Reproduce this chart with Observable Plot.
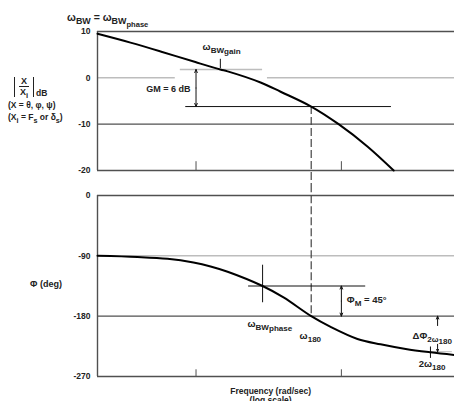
<!DOCTYPE html>
<html>
<head>
<meta charset="utf-8">
<script src="https://cdn.jsdelivr.net/npm/d3@7"></script>
<script src="https://cdn.jsdelivr.net/npm/@observablehq/plot@0.6"></script>
<style>
  html, body { margin: 0; padding: 0; background: #fff; overflow: hidden; }
  #wrap { position: relative; width: 454px; height: 401px; }
  #wrap svg { display: block; }
  .lab { position: absolute; font-family: "Liberation Sans", Arial, sans-serif; font-weight: bold;
         font-size: 8.5px; color: #222; white-space: nowrap; line-height: 1; }
  .lab sub { font-size: 0.85em; vertical-align: -0.35em; line-height: 0; }
  .frac { display: inline-block; border-left: 1.4px solid #222; border-right: 1.4px solid #222;
          padding: 0 4px; text-align: center; vertical-align: top; }
  .frac span { display: block; line-height: 9px; }
</style>
</head>
<body>
<div id="wrap"></div>
<script>
// ---------------- data ----------------
const FREQ_DOMAIN = [0.21, 60];          // rad/sec (log scale)
const freqTicks = [1, 10];

// Gain panel
const dbTicks = [10, 0, -10, -20];
const gainFreq = [0.21, 0.354, 0.57, 0.99, 1.47, 1.65, 2.78, 3.82, 6.2, 9.57, 15.1, 22.9];
const gainDb   = [9.5, 7.6, 5.7, 3.4, 1.8, 1.4, -1.0, -3.0, -6.2, -10, -14.8, -20];

// Phase panel
const degTicks = [0, -90, -180, -270];
const phaseFreq = [0.21, 0.396, 0.637, 0.96, 1.26, 1.65, 2.87, 4.0, 6.2, 8.43, 12.9, 18.6, 27.7, 41.1, 60];
const phaseDeg  = [-90, -91.8, -94.5, -100, -105.8, -113.7, -135, -152, -180, -196, -214, -222, -229, -234, -238];

// Key frequencies / levels
const omegaBWgain = 1.47;
const omegaBWphase = 2.87;
const omega180 = 6.2;
const twoOmega180 = 41;
const gainAtBWgain = 1.8;
const gainAt180 = -6.2;
const phaseMarginLevel = -135;

// Annotation labels (positions in data units)
const topLabelsStart = [{f: 1.11, v: 6.7, t: "ωBWgain"}];
const topLabelsEnd = [{f: 0.917, v: -2.4, t: "GM = 6 dB"}];
const botLabels = [
  {f: 2.26, v: -192, t: "ωBWphase"},
  {f: 5.16, v: -210, t: "ω180"},
  {f: 10.9, v: -156, t: "ΦM = 45°"},
  {f: 30.9, v: -210, t: "ΔΦ2ω180"},
  {f: 34, v: -252, t: "2ω180"}
];

// Rich text (subscript levels) for labels
const rich = {
  "ωBWgain": [["ω",0],["BW",1],["gain",1.4]],
  "ωBWphase": [["ω",0],["BW",1],["phase",1.4]],
  "ω180": [["ω",0],["180",1]],
  "ΦM = 45°": [["Φ",0],["M",1],[" = 45°",0]],
  "ΔΦ2ω180": [["ΔΦ",0],["2ω",1],["180",1.6]],
  "2ω180": [["2ω",0],["180",1]]
};

const gainData = gainFreq.map((f, i) => ({f, v: gainDb[i]}));
const phaseData = phaseFreq.map((f, i) => ({f, v: phaseDeg[i]}));

const FONT = "'Liberation Sans', Arial, sans-serif";
const DARK = "#505050", GRAY = "#bdbdbd";
const baseStyle = {fontFamily: FONT, fontSize: "8px", background: "white", overflow: "hidden"};
const fmt = d => String(d);
const RICH_SIZE = 9.5;

// ---------------- gain panel ----------------
const topPlot = Plot.plot({
  width: 454, height: 185,
  marginLeft: 97, marginRight: 0, marginTop: 31, marginBottom: 15,
  x: {type: "log", domain: FREQ_DOMAIN, axis: null},
  y: {domain: [-20, 10], axis: null},
  style: baseStyle,
  marks: [
    Plot.ruleY([{v: 0, x1: FREQ_DOMAIN[0], x2: 0.72}, {v: 0, x1: 3.1, x2: FREQ_DOMAIN[1]}],
      {y: "v", x1: "x1", x2: "x2", stroke: GRAY, strokeWidth: 1.5}),
    Plot.ruleY([{v: gainAtBWgain, x1: 0.78, x2: 2.87}],
      {y: "v", x1: "x1", x2: "x2", stroke: GRAY, strokeWidth: 1.5}),
    Plot.ruleY([10, -10, -20], {stroke: DARK, strokeWidth: 1.4}),
    Plot.ruleX([FREQ_DOMAIN[0]], {y1: -20, y2: 10, stroke: DARK, strokeWidth: 1.4}),
    Plot.ruleX(freqTicks, {y1: -20, y2: -18.1, stroke: DARK, strokeWidth: 1}),
    Plot.ruleY([{v: gainAt180, x1: 0.85, x2: 22.1}],
      {y: "v", x1: "x1", x2: "x2", stroke: "#111", strokeWidth: 1}),
    Plot.ruleX([omegaBWgain], {y1: 2.0, y2: 4.0, stroke: "#111", strokeWidth: 1}),
    Plot.ruleX([omega180], {y1: gainAt180, y2: -24, stroke: "#444", strokeWidth: 1.2, strokeDasharray: "8,3"}),
    Plot.arrow([{f: 1, y1: -2.2, y2: gainAtBWgain}, {f: 1, y1: -2.2, y2: gainAt180}],
      {x: "f", y1: "y1", y2: "y2", stroke: "#111", strokeWidth: 1, headLength: 5, headAngle: 45}),
    Plot.line(gainData, {x: "f", y: "v", stroke: "#000", strokeWidth: 2, curve: "catmull-rom"}),
    Plot.axisY({ticks: dbTicks, tickSize: 0, tickPadding: 7, tickFormat: fmt, label: null,
      fontWeight: "bold", fontSize: 8.5, fill: "#222"}),
    Plot.text(topLabelsStart, {x: "f", y: "v", text: "t", textAnchor: "start", fontSize: RICH_SIZE, fontWeight: "bold", fill: "#222"}),
    Plot.text(topLabelsEnd, {x: "f", y: "v", text: "t", textAnchor: "end", fontSize: 9, fontWeight: "bold", fill: "#222"})
  ]
});

// ---------------- phase panel ----------------
const botPlot = Plot.plot({
  width: 454, height: 216,
  marginLeft: 97, marginRight: 0, marginTop: 10, marginBottom: 25,
  x: {type: "log", domain: FREQ_DOMAIN, axis: null},
  y: {domain: [-270, 0], axis: null},
  style: baseStyle,
  marks: [
    Plot.ruleY([-90], {stroke: GRAY, strokeWidth: 1.5}),
    Plot.ruleY([0, -180, -270], {stroke: DARK, strokeWidth: 1.4}),
    Plot.ruleX([FREQ_DOMAIN[0]], {y1: -270, y2: 0, stroke: DARK, strokeWidth: 1.4}),
    Plot.ruleX(freqTicks, {y1: -270, y2: -260, stroke: DARK, strokeWidth: 1}),
    Plot.ruleX([omega180], {y1: 16, y2: -180, stroke: "#444", strokeWidth: 1.2, strokeDasharray: "8,3"}),
    Plot.ruleX([omegaBWphase], {y1: -104, y2: -160, stroke: "#111", strokeWidth: 1}),
    Plot.ruleY([{v: phaseMarginLevel, x1: 2.30, x2: 14.7}],
      {y: "v", x1: "x1", x2: "x2", stroke: "#111", strokeWidth: 1}),
    Plot.ruleY([{v: -233, x1: 35, x2: 58}],
      {y: "v", x1: "x1", x2: "x2", stroke: GRAY, strokeWidth: 1}),
    Plot.ruleX([twoOmega180], {y1: -226, y2: -243, stroke: "#111", strokeWidth: 1}),
    Plot.arrow([{f: 10, y1: -157.5, y2: phaseMarginLevel}, {f: 10, y1: -157.5, y2: -180}],
      {x: "f", y1: "y1", y2: "y2", stroke: "#111", strokeWidth: 1, headLength: 5, headAngle: 45}),
    Plot.arrow([{f: 45.9, y1: -194, y2: -180}, {f: 45.9, y1: -222, y2: -233}],
      {x: "f", y1: "y1", y2: "y2", stroke: "#111", strokeWidth: 1, headLength: 5, headAngle: 45}),
    Plot.line(phaseData, {x: "f", y: "v", stroke: "#000", strokeWidth: 2, curve: "catmull-rom"}),
    Plot.axisY({ticks: degTicks, tickSize: 0, tickPadding: 7, tickFormat: fmt, label: null,
      fontWeight: "bold", fontSize: 8.5, fill: "#222"}),
    Plot.text(botLabels, {x: "f", y: "v", text: "t", textAnchor: "start", fontSize: RICH_SIZE, fontWeight: "bold", fill: "#222"}),
    Plot.text([{f: 3.26, t: "Frequency (rad/sec)\n(log scale)"}],
      {x: "f", text: "t", frameAnchor: "bottom", dy: 11, lineAnchor: "top", lineHeight: 1.1,
       fontSize: 8.5, fontWeight: "bold", fill: "#222"})
  ]
});

// ---------------- rich text (subscripts) ----------------
function enrich(svg, base) {
  svg.querySelectorAll("text").forEach(el => {
    const spec = rich[el.textContent];
    if (!spec) return;
    while (el.firstChild) el.removeChild(el.firstChild);
    let cur = 0;
    spec.forEach(([s, lvl]) => {
      const ts = document.createElementNS("http://www.w3.org/2000/svg", "tspan");
      const shift = lvl * 0.3 * base;
      ts.setAttribute("dy", (shift - cur).toFixed(2));
      ts.setAttribute("font-size", lvl > 0 ? (base * 0.85) : base);
      ts.textContent = s;
      cur = shift;
      el.appendChild(ts);
    });
  });
}
enrich(topPlot, RICH_SIZE);
enrich(botPlot, RICH_SIZE);

const wrap = document.getElementById("wrap");
wrap.appendChild(topPlot);
wrap.appendChild(botPlot);

// ---------------- titles / axis labels ----------------
const html = `
  <div class="lab" style="left:67px;top:12px;font-size:10.5px;">ω<sub>BW</sub> = ω<sub>BW<sub>phase</sub></sub></div>
  <div class="lab" style="left:14px;top:77px;font-size:9px;">
    <span class="frac"><span style="border-bottom:1px solid #222;padding:0 2px;">X</span><span style="padding-top:1px;">X<sub>i</sub></span></span><span style="display:inline-block;vertical-align:top;margin-top:12px;margin-left:2px;font-size:8.5px;">dB</span>
  </div>
  <div class="lab" style="left:8px;top:101px;">(X = θ, φ, ψ)</div>
  <div class="lab" style="left:8px;top:113px;">(X<sub>i</sub> = F<sub>s</sub> or δ<sub>s</sub>)</div>
  <div class="lab" style="left:30px;top:280px;font-size:9px;">Φ (deg)</div>
`;
wrap.insertAdjacentHTML("beforeend", html);
</script>
</body>
</html>
